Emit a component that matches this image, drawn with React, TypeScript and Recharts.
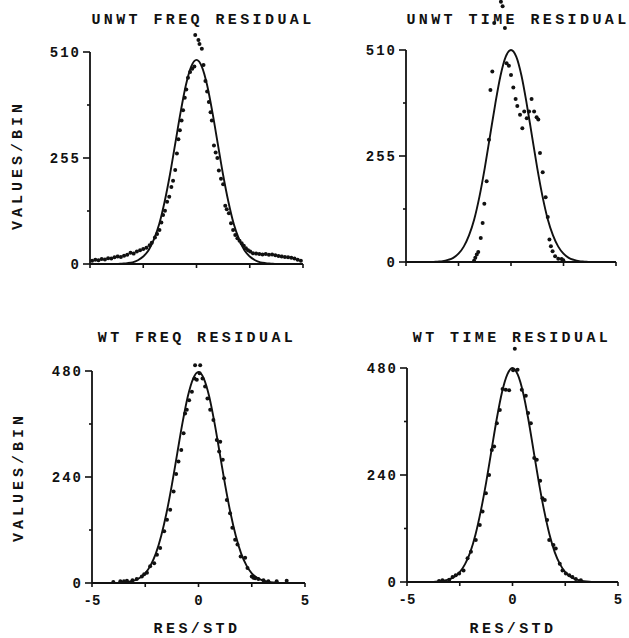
import {
  ComposedChart,
  Line,
  Scatter,
  XAxis,
  YAxis,
  ReferenceLine,
} from "recharts";

// residual axis, shared by all four panels
const xTicks = [-5, -2.5, 0, 2.5, 5];
const xLabelled = [-5, 0, 5];

const unwtTicks = [0, 127.5, 255, 382.5, 510];
const unwtLabelled = [0, 255, 510];
const wtTicks = [0, 120, 240, 360, 480];
const wtLabelled = [0, 240, 480];

// fitted curves
const curveX = [
  -5, -4, -3.75, -3.5, -3.25, -3, -2.75, -2.5, -2.25, -2, -1.75, -1.5, -1.25,
  -1, -0.75, -0.5, -0.25, 0, 0.25, 0.5, 0.75, 1, 1.25, 1.5, 1.75, 2, 2.25, 2.5,
  2.75, 3, 3.25, 3.5, 3.75, 4, 5,
];
const unwtFreqCurve = [
  0, 0, 0, 1, 2, 4, 9, 18, 33, 59, 96, 149, 214, 289, 364, 430, 475, 491, 475,
  430, 364, 289, 214, 149, 96, 59, 33, 18, 9, 4, 2, 1, 0, 0, 0,
];
const unwtTimeCurve = [
  0, 0, 0, 1, 2, 5, 10, 20, 37, 64, 103, 158, 226, 303, 380, 448, 494, 510, 494,
  448, 380, 303, 226, 158, 103, 64, 37, 20, 10, 5, 2, 1, 0, 0, 0,
];
const wtFreqCurve = [
  0, 0, 0, 1, 3, 6, 12, 22, 40, 67, 107, 159, 222, 293, 363, 423, 463, 478, 463,
  423, 363, 293, 222, 159, 107, 67, 40, 22, 12, 6, 3, 1, 0, 0, 0,
];
const wtTimeCurve = [
  0, 0, 0, 1, 3, 6, 12, 22, 40, 67, 107, 160, 223, 294, 365, 425, 465, 480, 465,
  425, 365, 294, 223, 160, 107, 67, 40, 22, 12, 6, 3, 1, 0, 0, 0,
];

// histogram points [res/std, values per bin]
const unwtFreqDots: [number, number][] = [
  [-4.9, 8], [-4.75, 10], [-4.6, 9], [-4.45, 12], [-4.3, 11], [-4.15, 14],
  [-4.0, 13], [-3.85, 16], [-3.7, 18], [-3.55, 17], [-3.4, 20], [-3.25, 22],
  [-3.1, 27], [-2.95, 25], [-2.8, 30], [-2.65, 33], [-2.5, 36], [-2.35, 39],
  [-2.2, 45], [-2.1, 51], [-1.95, 64], [-1.85, 72], [-1.74, 82], [-1.65, 100],
  [-1.57, 118], [-1.48, 128], [-1.38, 150], [-1.28, 162], [-1.18, 185],
  [-1.1, 200], [-1.0, 226], [-0.92, 266], [-0.85, 300], [-0.78, 322],
  [-0.7, 345], [-0.63, 370], [-0.55, 400], [-0.48, 420], [-0.4, 448],
  [-0.3, 462], [-0.2, 470], [-0.1, 475], [-0.06, 551], [0.09, 539],
  [0.14, 529], [0.25, 518], [0.33, 479], [0.42, 440], [0.5, 415], [0.58, 390],
  [0.66, 365], [0.72, 345], [0.82, 285], [0.9, 268], [0.98, 255], [1.05, 225],
  [1.15, 205], [1.25, 192], [1.35, 140], [1.42, 132], [1.52, 122], [1.62, 98],
  [1.72, 82], [1.82, 70], [1.92, 62], [2.02, 56], [2.12, 50], [2.22, 44],
  [2.32, 38], [2.42, 33], [2.52, 30], [2.65, 26], [2.8, 25], [2.95, 24],
  [3.1, 23], [3.25, 24], [3.4, 22], [3.55, 23], [3.7, 21], [3.85, 19],
  [4.0, 18], [4.15, 17], [4.3, 16], [4.45, 15], [4.6, 13], [4.75, 10],
  [4.9, 8],
];
const unwtTimeDots: [number, number][] = [
  [-1.76, 3], [-1.7, 10], [-1.63, 18], [-1.56, 24], [-1.44, 58], [-1.35, 94],
  [-1.27, 140], [-1.16, 194], [-1.05, 294], [-0.98, 414], [-0.89, 458],
  [-0.8, 575], [-0.48, 626], [-0.4, 615], [-0.29, 563], [-0.21, 478],
  [-0.1, 472], [0, 450], [0.11, 420], [0.22, 392], [0.3, 375], [0.43, 354],
  [0.54, 322], [0.63, 362], [0.75, 346], [0.86, 362], [0.98, 392], [1.1, 362],
  [1.22, 348], [1.3, 343], [1.38, 262], [1.51, 216], [1.65, 156], [1.75, 108],
  [1.83, 54], [1.9, 38], [1.98, 26], [2.1, 14], [2.25, 8], [2.41, 7],
  [2.49, 4],
];
const wtFreqDots: [number, number][] = [
  [-4.0, 2], [-3.67, 4], [-3.5, 4], [-3.36, 5], [-3.1, 6], [-2.9, 9],
  [-2.66, 15], [-2.55, 20], [-2.42, 23], [-2.27, 38], [-2.08, 45], [-1.95, 64],
  [-1.8, 79], [-1.61, 117], [-1.48, 143], [-1.33, 166], [-1.17, 207],
  [-1.05, 247], [-0.94, 275], [-0.81, 301], [-0.7, 339], [-0.63, 384],
  [-0.55, 392], [-0.44, 414], [-0.31, 433], [-0.19, 463], [-0.16, 493],
  [-0.08, 460], [0.05, 475], [0.08, 493], [0.19, 463], [0.31, 445],
  [0.42, 418], [0.55, 392], [0.7, 369], [0.86, 324], [0.97, 298], [1.02, 320],
  [1.14, 279], [1.2, 237], [1.33, 188], [1.48, 158], [1.59, 125], [1.72, 98],
  [1.83, 87], [1.98, 60], [2.19, 57], [2.3, 34], [2.5, 15], [2.58, 12],
  [2.66, 11], [2.81, 9], [3.05, 6], [3.28, 4], [3.67, 4], [4.14, 5],
];
const wtTimeDots: [number, number][] = [
  [-3.48, 2], [-3.32, 4], [-3.0, 5], [-2.84, 11], [-2.69, 15], [-2.53, 19],
  [-2.32, 26], [-2.13, 53], [-1.97, 68], [-1.74, 94], [-1.55, 128],
  [-1.42, 158], [-1.26, 199], [-1.11, 240], [-0.98, 296], [-0.87, 304],
  [-0.74, 356], [-0.6, 386], [-0.47, 433], [-0.32, 431], [-0.16, 430],
  [0.03, 475], [0.11, 523], [0.24, 476], [0.44, 431], [0.63, 418],
  [0.74, 379], [0.87, 356], [1.03, 278], [1.15, 274], [1.31, 227],
  [1.42, 188], [1.53, 184], [1.64, 139], [1.74, 94], [1.94, 83], [2.05, 75],
  [2.24, 41], [2.37, 26], [2.53, 19], [2.69, 15], [2.84, 11], [3.0, 7],
  [3.24, 4],
];

const INK = "#111";
const FONT = '"Liberation Mono", "DejaVu Sans Mono", monospace';
const Y_AXIS_W = 60;
const X_AXIS_H = 30;

type Geo = {
  box: { left: number; top: number; width: number; height: number };
  xLeft: number; // px of -5
  xRight: number; // px of 5
  yZero: number; // px of 0
  yTopPx: number; // px of top tick
  plotTop: number;
};

const toPoints = (pairs: [number, number][]) =>
  pairs.map(([x, y]) => ({ x, y }));
const toCurve = (ys: number[]) => curveX.map((x, i) => ({ x, y: ys[i] }));

const Dot = (props: any) => {
  const { cx, cy } = props;
  if (cx == null || cy == null) return null;
  return <circle cx={cx} cy={cy} r={2} fill={INK} />;
};

const Panel = ({
  geo,
  ticks,
  labelled,
  curve,
  dots,
  showXLabels,
}: {
  geo: Geo;
  ticks: number[];
  labelled: number[];
  curve: number[];
  dots: [number, number][];
  showXLabels: boolean;
}) => {
  const { box, xLeft, xRight, yZero, yTopPx, plotTop } = geo;
  const topTick = ticks[ticks.length - 1];
  const yMax = (topTick * (yZero - plotTop)) / (yZero - yTopPx);
  const margin = {
    top: plotTop - box.top,
    left: xLeft - box.left - Y_AXIS_W,
    right: box.left + box.width - xRight,
    bottom: box.top + box.height - yZero - X_AXIS_H,
  };

  const yTick = (p: any) => {
    const { x, y, payload } = p;
    const major = labelled.includes(payload.value);
    return (
      <g>
        <line x1={x - (major ? 7 : 3)} x2={x} y1={y} y2={y} stroke={INK} strokeWidth={1.6} />
        {major && (
          <text
            x={x - 9}
            y={y + 5}
            textAnchor="end"
            fontFamily={FONT}
            fontWeight={700}
            fontSize={14}
            letterSpacing={2}
            fill={INK}
          >
            {payload.value}
          </text>
        )}
      </g>
    );
  };

  const xTick = (p: any) => {
    const { x, y, payload } = p;
    const show = showXLabels && xLabelled.includes(payload.value);
    return (
      <g>
        <line x1={x} x2={x} y1={y} y2={y + 4} stroke={INK} strokeWidth={1.6} />
        {show && (
          <text
            x={x}
            y={y + 22}
            textAnchor="middle"
            fontFamily={FONT}
            fontWeight={700}
            fontSize={14}
            fill={INK}
          >
            {payload.value}
          </text>
        )}
      </g>
    );
  };

  return (
    <div style={{ position: "absolute", left: box.left, top: box.top }}>
      <ComposedChart width={box.width} height={box.height} margin={margin}>
        <XAxis
          dataKey="x"
          type="number"
          domain={[-5, 5]}
          ticks={xTicks}
          interval={0}
          allowDataOverflow
          height={X_AXIS_H}
          stroke={INK}
          strokeWidth={1.8}
          tickLine={false}
          tickSize={0}
          tickMargin={0}
          tick={xTick}
        />
        <YAxis
          dataKey="y"
          type="number"
          domain={[0, yMax]}
          ticks={ticks}
          interval={0}
          allowDataOverflow
          width={Y_AXIS_W}
          axisLine={false}
          tickLine={false}
          tickSize={0}
          tickMargin={0}
          tick={yTick}
        />
        <ReferenceLine
          segment={[
            { x: -5, y: 0 },
            { x: -5, y: topTick },
          ]}
          stroke={INK}
          strokeWidth={1.8}
          ifOverflow="visible"
        />
        <Line
          data={toCurve(curve)}
          dataKey="y"
          type="monotone"
          stroke={INK}
          strokeWidth={1.9}
          dot={false}
          activeDot={false}
          isAnimationActive={false}
        />
        <Scatter
          data={toPoints(dots)}
          dataKey="y"
          fill={INK}
          shape={Dot}
          isAnimationActive={false}
        />
      </ComposedChart>
    </div>
  );
};

const Caption = ({
  text,
  x,
  y,
  rotate,
}: {
  text: string;
  x: number;
  y: number;
  rotate?: boolean;
}) => (
  <div
    style={{
      position: "absolute",
      left: x,
      top: y,
      transform: `translate(-50%, -50%)${rotate ? " rotate(-90deg)" : ""}`,
      fontFamily: FONT,
      fontWeight: 700,
      fontSize: 15,
      letterSpacing: rotate ? "4px" : "3.4px",
      lineHeight: 1,
      whiteSpace: "nowrap",
      color: INK,
    }}
  >
    {text}
  </div>
);

const geos: Geo[] = [
  { box: { left: 0, top: 0, width: 320, height: 300 }, xLeft: 90, xRight: 303, yZero: 264, yTopPx: 52, plotTop: 5 },
  { box: { left: 320, top: 0, width: 309, height: 300 }, xLeft: 406, xRight: 616, yZero: 262, yTopPx: 50, plotTop: 0 },
  { box: { left: 0, top: 310, width: 320, height: 328 }, xLeft: 92, xRight: 305, yZero: 583, yTopPx: 371, plotTop: 340 },
  { box: { left: 320, top: 310, width: 309, height: 328 }, xLeft: 407, xRight: 618, yZero: 582, yTopPx: 368, plotTop: 340 },
];

export default function App() {
  return (
    <div
      style={{
        position: "absolute",
        left: 0,
        top: 0,
        width: 629,
        height: 638,
        background: "#fff",
        overflow: "hidden",
      }}
    >
      <Panel geo={geos[0]} ticks={unwtTicks} labelled={unwtLabelled} curve={unwtFreqCurve} dots={unwtFreqDots} showXLabels={false} />
      <Panel geo={geos[1]} ticks={unwtTicks} labelled={unwtLabelled} curve={unwtTimeCurve} dots={unwtTimeDots} showXLabels={false} />
      <Panel geo={geos[2]} ticks={wtTicks} labelled={wtLabelled} curve={wtFreqCurve} dots={wtFreqDots} showXLabels />
      <Panel geo={geos[3]} ticks={wtTicks} labelled={wtLabelled} curve={wtTimeCurve} dots={wtTimeDots} showXLabels />

      <Caption text="UNWT FREQ RESIDUAL" x={203} y={20} />
      <Caption text="UNWT TIME RESIDUAL" x={518} y={20} />
      <Caption text="WT FREQ RESIDUAL" x={197} y={338} />
      <Caption text="WT TIME RESIDUAL" x={512} y={338} />

      <Caption text="VALUES/BIN" x={18} y={165} rotate />
      <Caption text="VALUES/BIN" x={19} y={477} rotate />

      <Caption text="RES/STD" x={197} y={629} />
      <Caption text="RES/STD" x={513} y={629} />
    </div>
  );
}
